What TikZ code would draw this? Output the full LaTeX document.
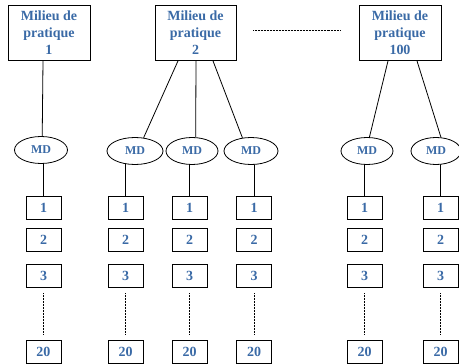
\documentclass[tikz,border=0pt]{standalone}
\usepackage{fontspec}
\setmainfont{Liberation Serif}
\usetikzlibrary{shapes.geometric,backgrounds}
\definecolor{txtblue}{HTML}{3A6AA6}
\begin{document}
\begin{tikzpicture}[x=1pt,y=-1pt,
  bigbox/.style={draw,line width=0.8pt,minimum width=82pt,minimum height=55pt,inner sep=0pt,
     align=center,font=\bfseries\fontsize{14}{17}\selectfont,text=txtblue},
  mdell/.style={draw,ellipse,fill=white,line width=0.8pt,minimum width=53pt,minimum height=27pt,inner sep=0pt,
     font=\bfseries\fontsize{12}{13}\selectfont,text=txtblue},
  numbox/.style={draw,line width=0.9pt,minimum width=35pt,minimum height=23pt,inner sep=0pt,
     font=\bfseries\fontsize{14}{15}\selectfont,text=txtblue},
  link/.style={line width=0.8pt},
  dots/.style={dash pattern=on 0.6pt off 0.9pt,line width=0.6pt}]
\useasboundingbox (0,0) rectangle (459,364);
% big boxes
\node[bigbox] (B1) at (49,33) {Milieu de\\pratique\\1};
\node[bigbox,minimum width=81pt] (B2) at (195.5,33) {Milieu de\\pratique\\2};
\node[bigbox] (B3) at (400,33) {Milieu de\\pratique\\100};
\coordinate (d1) at (253,30);
\coordinate (d2) at (341,30);
\draw[dots] (d1) -- (d2);
% ellipses
\node[mdell] (e1) at (41,150) {MD};
\node[mdell,minimum width=56pt] (e2) at (135,151) {MD};
\node[mdell,minimum width=52pt] (e3) at (192,151) {MD};
\node[mdell,minimum width=54pt] (e4) at (251,151) {MD};
\node[mdell,minimum width=52pt] (e5) at (367,151) {MD};
\node[mdell,minimum width=50pt] (e6) at (436,151) {MD};
% box to ellipse links
\draw[link] ([xshift=-6pt]B1.south) -- (e1.85);
\draw[link] ([xshift=-17.5pt]B2.south) -- (e2.57);
\draw[link] ([xshift=0.5pt]B2.south) -- (e3.75);
\draw[link] ([xshift=17.5pt]B2.south) -- (e4.123);
\draw[link] ([xshift=-12pt]B3.south) -- (e5.80);
\draw[link] ([xshift=17pt]B3.south) -- (e6.70);
% number columns
\foreach \i/\x in {1/43.5,2/125.5,3/189.5,4/254,5/364.5,6/440.5}{
  \node[numbox] (c\i r1) at (\x,207.5) {1};
  \node[numbox] (c\i r2) at (\x,240) {2};
  \node[numbox] (c\i r3) at (\x,275.5) {3};
  \node[numbox] (c\i r20) at (\x,352) {20};
  \coordinate (c\i t) at (\x,293);
  \coordinate (c\i b) at (\x,334);
  \draw[dots] (c\i t) -- (c\i b);
}
\begin{scope}[on background layer]
\foreach \i in {1,...,6}{
  \draw[link] (c\i r1.north) -- (c\i r1.north |- e\i.center);
}
\end{scope}
\end{tikzpicture}
\end{document}
